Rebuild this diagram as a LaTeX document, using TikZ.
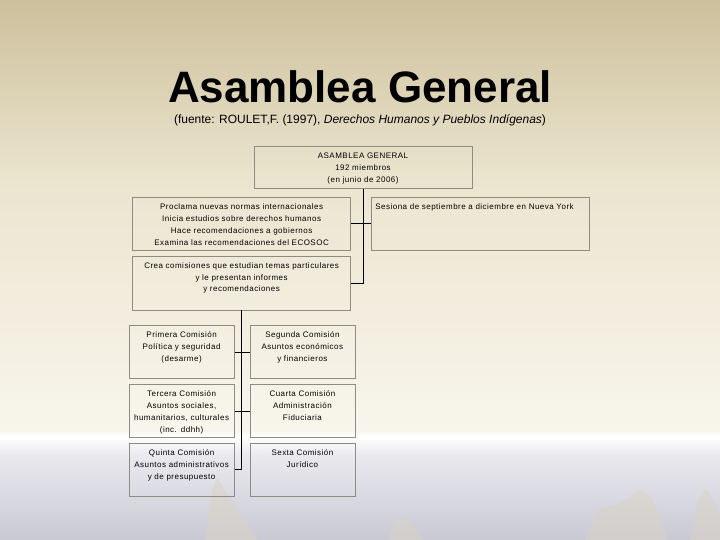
\documentclass[tikz,border=0pt]{standalone}
\usepackage{fontspec}
\setmainfont{Liberation Sans}
\newfontfamily\cajafamily[LetterSpace=6]{Liberation Sans}
\newcommand{\cajafont}{\cajafamily\fontsize{8}{12}\selectfont}
\usetikzlibrary{positioning,calc}
\definecolor{fondoA}{HTML}{CDC09B}
\definecolor{fondoB}{HTML}{EBE5CF}
\definecolor{fondoC}{HTML}{F8F5EC}
\definecolor{brumaA}{HTML}{E9E9EE}
\definecolor{brumaB}{HTML}{C9C9D4}
\definecolor{roca}{HTML}{DAD3C0}
\definecolor{bordecaja}{HTML}{8E8B83}

\tikzset{
    caja/.style={draw=bordecaja, line width=0.8pt, text width=210pt, align=center,
        inner xsep=4pt, inner ysep=6pt, text height=6pt, font=\cajafont},
    comision/.style={caja, text width=99pt, inner xsep=3pt, text depth=35pt},
    enlace/.style={draw=black, line width=0.9pt},
}

\begin{document}
\begin{tikzpicture}[x=1pt, y=-1pt]
        \useasboundingbox (0,0) rectangle (720,540);
        % fondo
        \shade[top color=fondoA, bottom color=fondoB] (0,0) rectangle (720,180);
        \shade[top color=fondoB, bottom color=fondoC] (0,180) rectangle (720,430);
        \shade[top color=fondoC, bottom color=white] (0,430) rectangle (720,437);
        \shade[top color=white, bottom color=brumaA] (0,437) rectangle (720,455);
        \shade[top color=brumaA, bottom color=brumaB] (0,455) rectangle (720,540);
        \fill[roca, opacity=0.45] (205,540) -- (212,490) -- (217,478) -- (226,492) -- (240,512) -- (258,540) -- cycle;
        \fill[roca, opacity=0.45] (388,540) -- (395,522) -- (402,516) -- (412,525) -- (424,540) -- cycle;
        \fill[roca, opacity=0.45] (585,540) -- (598,510) -- (612,506) -- (625,500) -- (640,490) -- (652,498) -- (668,540) -- cycle;
        \fill[roca, opacity=0.45] (690,540) -- (698,500) -- (706,488) -- (716,505) -- (720,520) -- (720,540) -- cycle;

        \node[anchor=base, font=\fontsize{44}{48}\selectfont\bfseries] (titulo) at (360,103) {Asamblea General};
        \node[anchor=base, font=\fontsize{12}{14}\selectfont] (fuente) at (360,124)
            {(fuente: ROULET,F. (1997), \textit{Derechos Humanos y Pueblos Indígenas})};

        \node[caja, text depth=24pt, anchor=north] (ag) at (363,146)
            {ASAMBLEA GENERAL\\192 miembros\\(en junio de 2006)};
        \node[caja, text depth=35pt, anchor=north east] (funciones) at ($(ag.south)+(-12,8)$)
            {Proclama nuevas normas internacionales\\Inicia estudios sobre derechos humanos\\
             Hace recomendaciones a gobiernos\\Examina las recomendaciones del ECOSOC};
        \node[caja, text depth=35pt, align=left, right=20pt of funciones] (sesiones)
            {Sesiona de septiembre a diciembre en Nueva York};
        \node[caja, text depth=36pt, below=5pt of funciones] (comisiones)
            {Crea comisiones que estudian temas particulares\\y le presentan informes\\y recomendaciones};

        \node[comision, below=15pt of comisiones, xshift=-60pt] (primera)
            {Primera Comisión\\Política y seguridad\\(desarme)};
        \node[comision, right=15pt of primera] (segunda)
            {Segunda Comisión\\Asuntos económicos\\y financieros};
        \node[comision, below=5pt of primera] (tercera)
            {Tercera Comisión\\Asuntos sociales,\\humanitarios, culturales\\(inc. ddhh)};
        \node[comision, right=15pt of tercera] (cuarta)
            {Cuarta Comisión\\Administración\\Fiduciaria};
        \node[comision, below=5pt of tercera] (quinta)
            {Quinta Comisión\\Asuntos administrativos\\y de presupuesto};
        \node[comision, right=15pt of quinta] (sexta)
            {Sexta Comisión\\Jurídico};

        \draw[enlace] (ag.south) |- (comisiones.east);
        \draw[enlace] (funciones.east) -- (sesiones.west);
        \draw[enlace] (comisiones.south) |- (quinta.east);
        \draw[enlace] (primera.east) -- (segunda.west);
        \draw[enlace] (tercera.east) -- (cuarta.west);
\end{tikzpicture}
\end{document}
